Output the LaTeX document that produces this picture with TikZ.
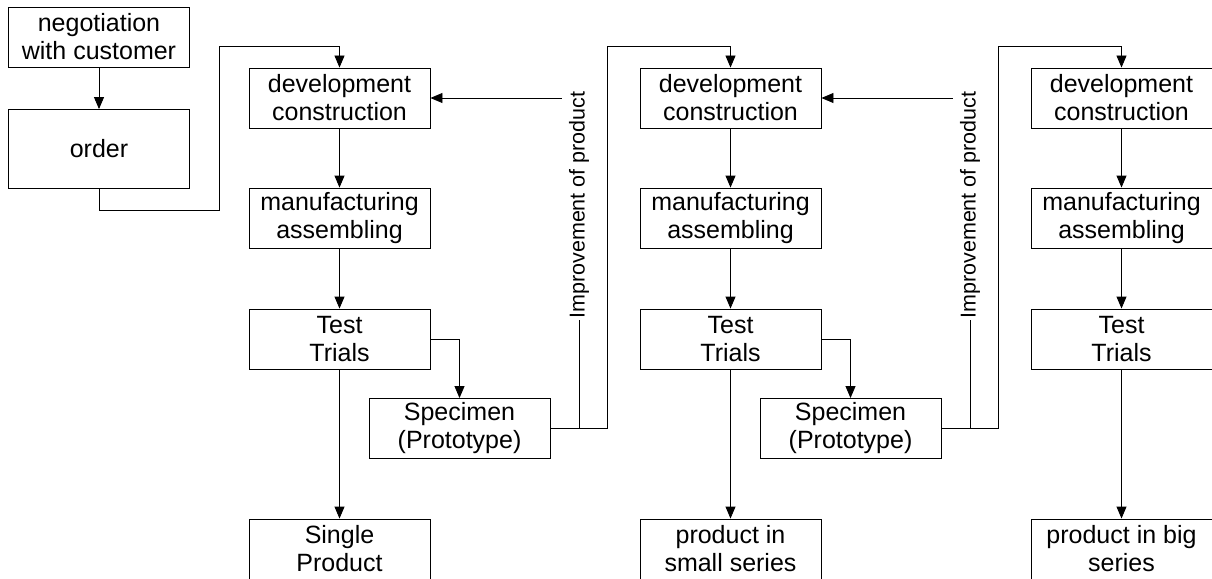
\documentclass[tikz,border=0pt]{standalone}
\usepackage{fontspec}
\setmainfont{Liberation Sans}
\usetikzlibrary{arrows.meta}
\begin{document}
\begin{tikzpicture}[x=1pt,y=-1pt,
  box/.style={draw, line width=0.9pt, fill=white, minimum width=181pt, minimum height=60pt,
    align=center, font=\fontsize{25}{28}\selectfont, inner sep=0pt},
  conn/.style={draw, line width=0.9pt, -{Triangle[length=12pt,width=10pt]}},
  plain/.style={draw, line width=0.9pt},
  lbl/.style={rotate=90, fill=white, font=\fontsize{21.5}{24}\selectfont,
    minimum height=34pt, inner xsep=1pt, inner ysep=0pt}]
\useasboundingbox (0,0) rectangle (1212,578);

\node[box] (neg) at (99,37) {negotiation\\with customer};
\node[box, minimum height=79pt] (order) at (99,149) {order};

\foreach \i/\x in {1/339.5,2/730.5,3/1121.5}{
  \node[box] (dev\i) at (\x,98) {development\\construction};
  \node[box] (man\i) at (\x,218) {manufacturing\\assembling};
  \node[box] (test\i) at (\x,339) {Test\\Trials};
}
\node[box] (prod1) at (339.5,549) {Single\\Product};
\node[box] (prod2) at (730.5,549) {product in\\small series};
\node[box] (prod3) at (1121.5,549) {product in big\\series};

\foreach \i/\x in {1/339.5,2/730.5}{
  \node[box] (spec\i) at (\x+120,428.5) {Specimen\\(Prototype)};
}

% order to first development
\coordinate (oa) at (219,210);
\coordinate (ob) at (219,46);
\draw[conn] (neg.south) -- (order.north);
\draw[conn] (order.south) |- (oa) -- (ob) -| (dev1.north);

\foreach \i/\x in {1/339.5,2/730.5,3/1121.5}{
  \draw[conn] (dev\i.south) -- (man\i.north);
  \draw[conn] (man\i.south) -- (test\i.north);
  \draw[conn] (test\i.south) -- (prod\i.north);
}

\foreach \i/\x/\j in {1/339.5/2,2/730.5/3}{
  \coordinate (sa\i) at (\x+267.5,428.5);
  \coordinate (sb\i) at (\x+267.5,46);
  \coordinate (jn\i) at (\x+239.5,428.5);
  \draw[conn] (test\i.east) -| (spec\i.north);
  \draw[plain] (spec\i.east) -- (sa\i) -- (sb\i);
  \draw[conn] (sb\i) -| (dev\j.north);
  \draw[conn] (jn\i) |- (dev\i.east);
  \node[lbl] (imp\i) at (\x+239.5,205) {Improvement of product};
}
\end{tikzpicture}
\end{document}
